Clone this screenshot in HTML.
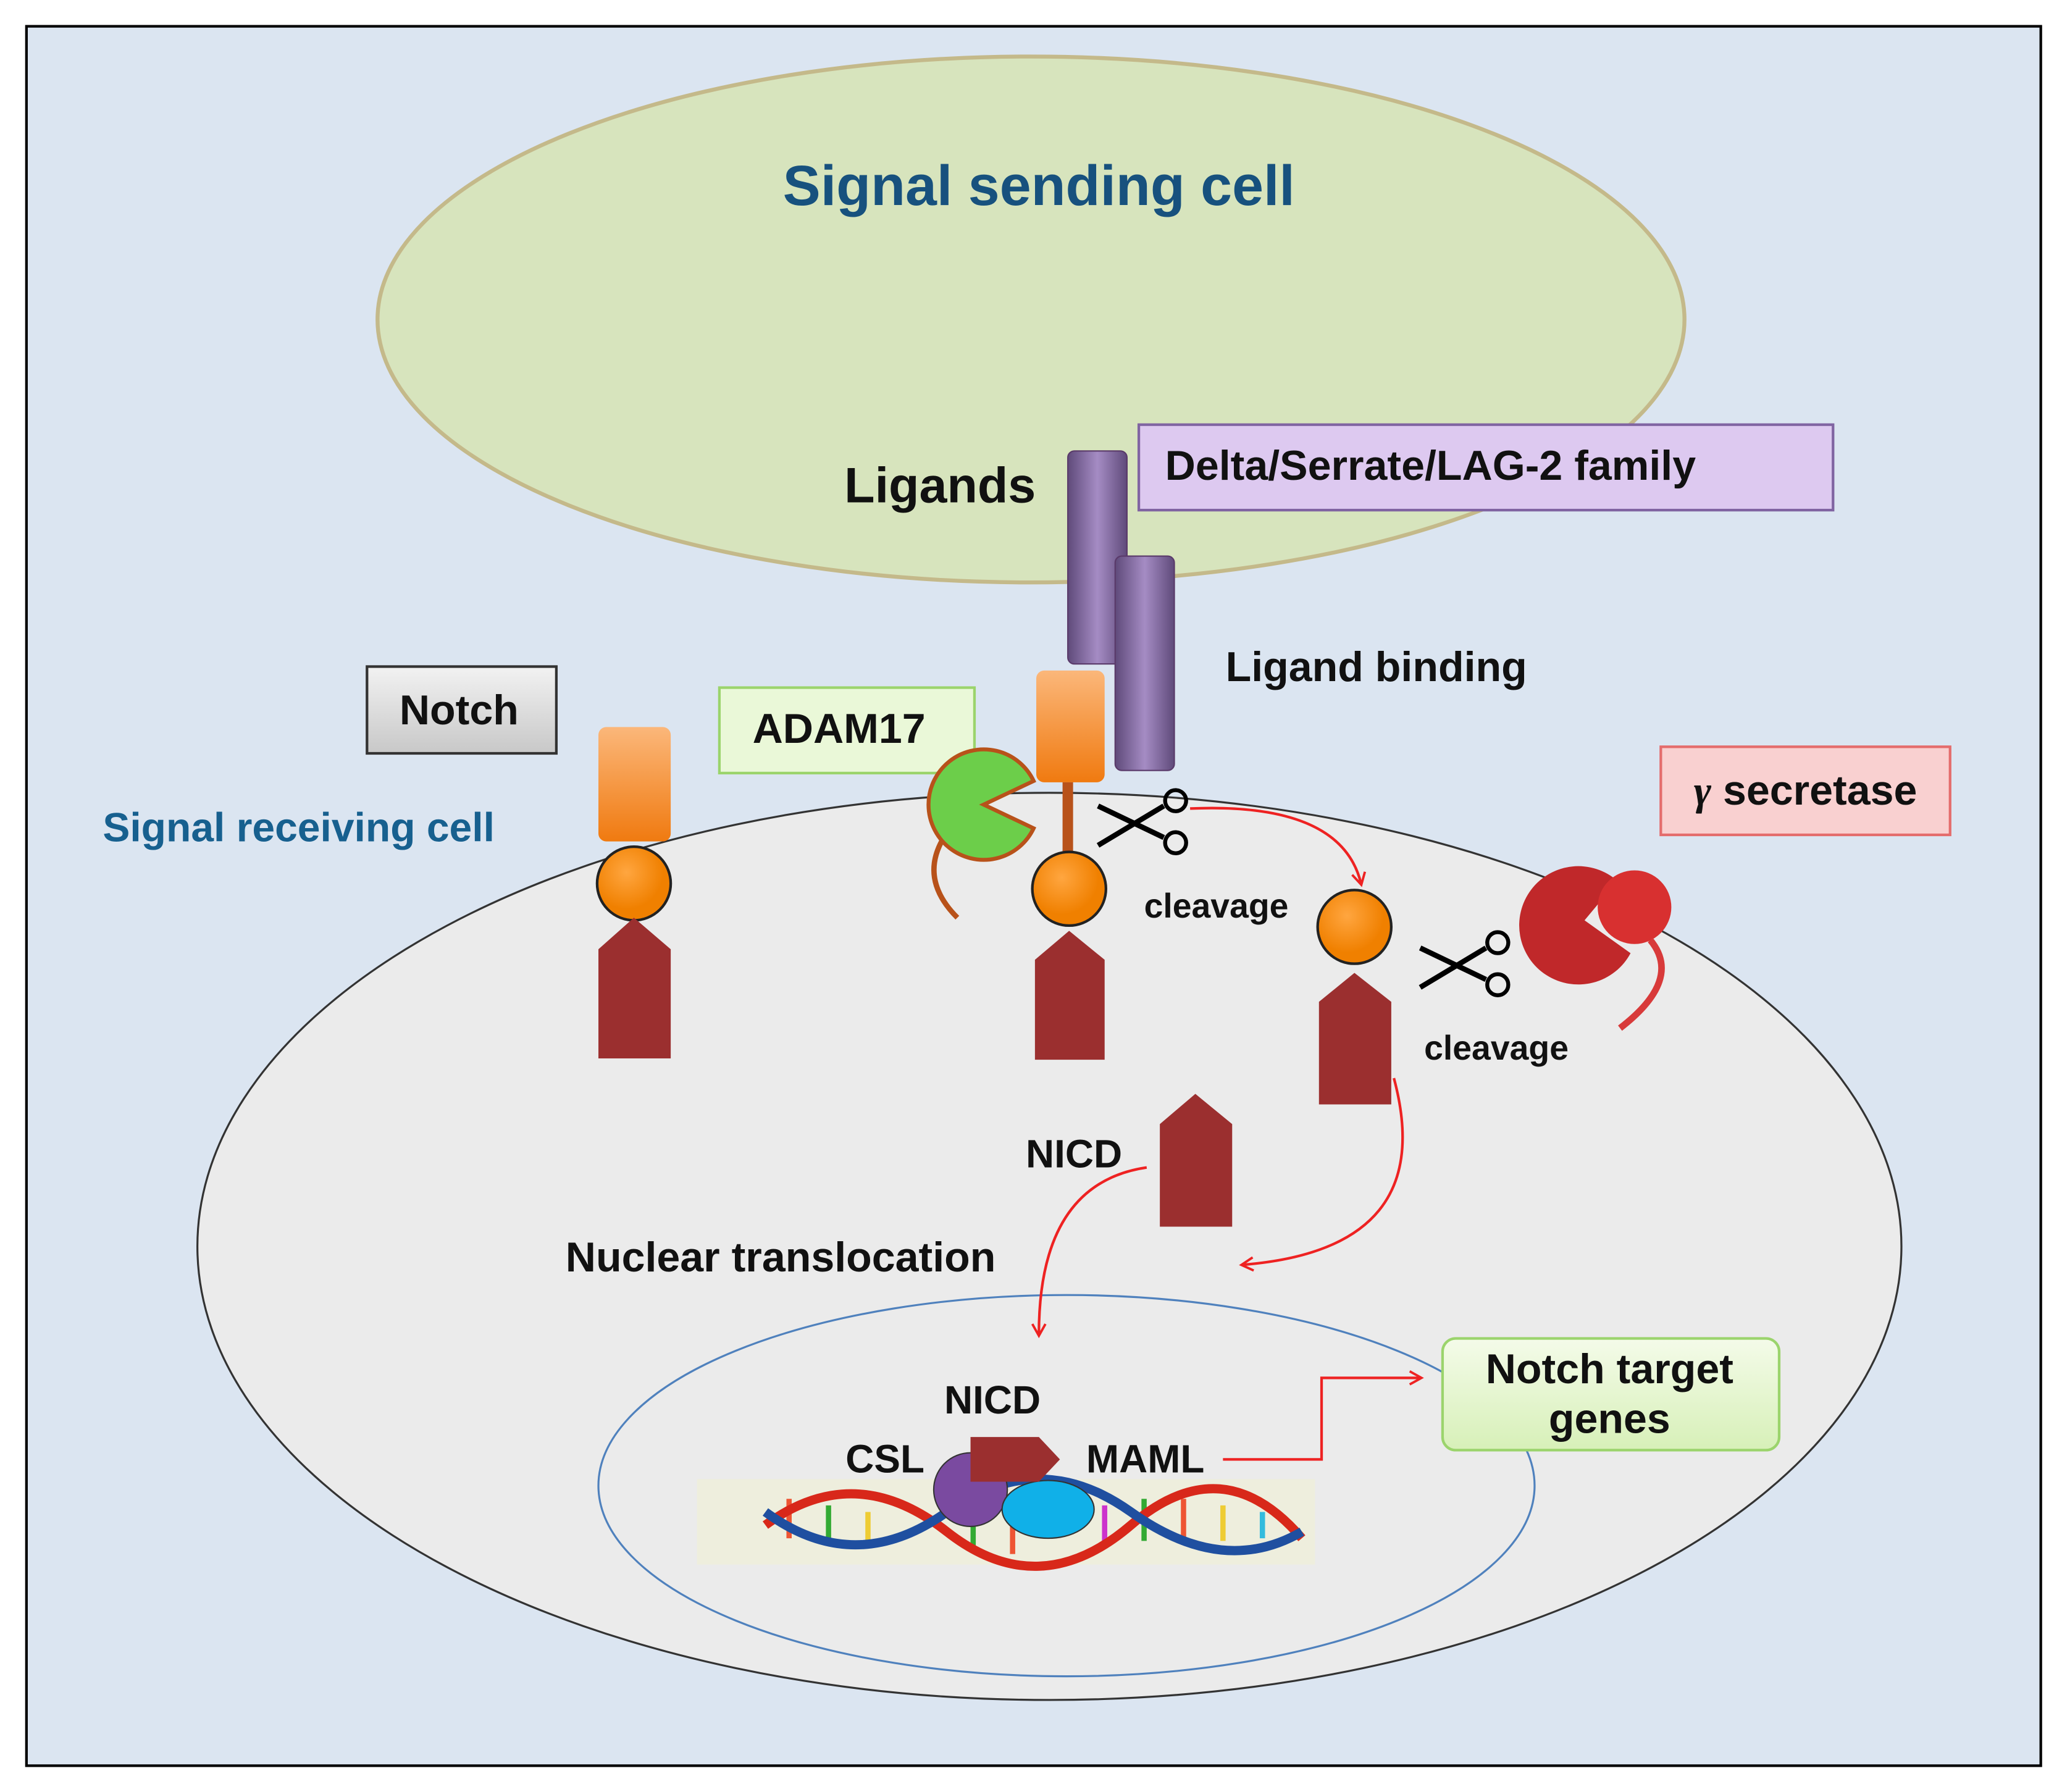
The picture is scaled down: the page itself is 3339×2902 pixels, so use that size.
<!DOCTYPE html>
<html><head><meta charset="utf-8">
<style>
html,body{margin:0;padding:0;background:#fff;}
svg{display:block;}
text{font-family:"Liberation Sans","DejaVu Sans",sans-serif;}
</style></head>
<body>
<svg width="3339" height="2902" viewBox="0 0 1568 1363" xmlns="http://www.w3.org/2000/svg">
<defs>
<linearGradient id="pur" x1="0" x2="1"><stop offset="0" stop-color="#5f4a7a"/><stop offset="0.5" stop-color="#a58cc4"/><stop offset="1" stop-color="#5f4a7a"/></linearGradient>
<linearGradient id="org" x1="0" y1="0" x2="0" y2="1"><stop offset="0" stop-color="#fbb77a"/><stop offset="1" stop-color="#f07a10"/></linearGradient>
<radialGradient id="orc" cx="0.4" cy="0.35"><stop offset="0" stop-color="#ffa640"/><stop offset="1" stop-color="#f08000"/></radialGradient>
<linearGradient id="gray" x1="0" y1="0" x2="0" y2="1"><stop offset="0" stop-color="#f2f2f2"/><stop offset="1" stop-color="#c8c8c8"/></linearGradient>
<linearGradient id="grn" x1="0" y1="0" x2="0" y2="1"><stop offset="0" stop-color="#f4fbe9"/><stop offset="1" stop-color="#d7f0b8"/></linearGradient>
<marker id="ar" markerWidth="12" markerHeight="12" refX="9" refY="6" orient="auto" markerUnits="userSpaceOnUse"><path d="M1,1 L10,6 L1,11" fill="none" stroke="#ee2222" stroke-width="1.8"/></marker>
</defs>
<rect x="20" y="20" width="1532" height="1323" fill="#dbe5f1" stroke="#000" stroke-width="2"/>
<ellipse cx="784" cy="243" rx="497" ry="200" fill="#d7e4bd" stroke="#c4b98a" stroke-width="3"/>
<text x="790" y="156" text-anchor="middle" font-size="43" font-weight="bold" fill="#17517e">Signal sending cell</text>
<ellipse cx="798" cy="948" rx="648" ry="345" fill="#ebebeb" stroke="#333" stroke-width="1.5"/>
<ellipse cx="811" cy="1130" rx="356" ry="145" fill="none" stroke="#4f81bd" stroke-width="1.5"/>

<rect x="866" y="323" width="528" height="65" fill="#ddc9f0" stroke="#8064a2" stroke-width="2"/>
<text x="886" y="365" font-size="32" font-weight="bold" fill="#111">Delta/Serrate/LAG-2 family</text>
<text x="642" y="382" font-size="38" font-weight="bold" fill="#111">Ligands</text>
<rect x="812" y="343" width="45" height="162" rx="5" fill="url(#pur)" stroke="#5a3a6a"/>
<rect x="848" y="423" width="45" height="163" rx="5" fill="url(#pur)" stroke="#5a3a6a"/>
<text x="932" y="518" font-size="32" font-weight="bold" fill="#111">Ligand binding</text>

<rect x="279" y="507" width="144" height="66" fill="url(#gray)" stroke="#333" stroke-width="2"/>
<text x="349" y="551" text-anchor="middle" font-size="32" font-weight="bold" fill="#111">Notch</text>
<rect x="547" y="523" width="194" height="65" fill="#eaf8d8" stroke="#9bd46c" stroke-width="2"/>
<text x="638" y="565" text-anchor="middle" font-size="32" font-weight="bold" fill="#111">ADAM17</text>
<text x="78" y="640" font-size="31" font-weight="bold" fill="#17608f">Signal receiving cell</text>

<rect x="455" y="553" width="55" height="87" rx="6" fill="url(#org)"/>
<circle cx="482" cy="672" r="28" fill="url(#orc)" stroke="#222" stroke-width="2"/>
<path d="M455,722 L482,698 L510,722 L510,805 L455,805 Z" fill="#9b2f2f"/>
<rect x="788" y="510" width="52" height="85" rx="6" fill="url(#org)"/>
<rect x="808" y="595" width="8" height="55" fill="#b8521a"/>
<circle cx="813" cy="676" r="28" fill="url(#orc)" stroke="#222" stroke-width="2"/>
<path d="M787,730 L813,708 L840,730 L840,806 L787,806 Z" fill="#9b2f2f"/>
<path d="M748,612 L786,594 A42,42 0 1 0 786,630 Z" fill="#6cce4a" stroke="#b8521a" stroke-width="3"/>
<path d="M716,640 Q700,670 728,698" fill="none" stroke="#b8521a" stroke-width="4"/>
<g transform="translate(870,625)" stroke="#000" fill="none" stroke-width="4">
<line x1="-35" y1="18" x2="15" y2="-12"/><line x1="-35" y1="-12" x2="15" y2="12"/>
<circle cx="24" cy="-16" r="8" stroke-width="3"/><circle cx="24" cy="16" r="8" stroke-width="3"/>
</g>
<text x="870" y="698" font-size="26" font-weight="bold" fill="#111">cleavage</text>
<path d="M905,615 Q1020,610 1035,672" fill="none" stroke="#ee2222" stroke-width="2" marker-end="url(#ar)"/>
<circle cx="1030" cy="705" r="28" fill="url(#orc)" stroke="#222" stroke-width="2"/>
<path d="M1003,762 L1030,740 L1058,762 L1058,840 L1003,840 Z" fill="#9b2f2f"/>
<g transform="translate(1115,733)" stroke="#000" fill="none" stroke-width="4">
<line x1="-35" y1="18" x2="15" y2="-12"/><line x1="-35" y1="-12" x2="15" y2="12"/>
<circle cx="24" cy="-16" r="8" stroke-width="3"/><circle cx="24" cy="16" r="8" stroke-width="3"/>
</g>
<text x="1083" y="806" font-size="26" font-weight="bold" fill="#111">cleavage</text>
<rect x="1263" y="568" width="220" height="67" fill="#f9d0d0" stroke="#e46c6c" stroke-width="2"/>
<text x="1373" y="612" text-anchor="middle" font-size="32" font-weight="bold" fill="#111"><tspan font-style="italic" font-family="Liberation Serif,serif">γ</tspan> secretase</text>
<path d="M1205,700 L1230,670 A45,45 0 1 0 1240,725 Z" fill="#c0282a"/>
<circle cx="1243" cy="690" r="28" fill="#d83030"/>
<path d="M1255,715 Q1280,745 1232,782" fill="none" stroke="#d83a3a" stroke-width="5"/>
<path d="M1060,820 Q1095,950 945,962" fill="none" stroke="#ee2222" stroke-width="2" marker-end="url(#ar)"/>
<path d="M882,855 L909,832 L937,855 L937,933 L882,933 Z" fill="#9b2f2f"/>
<text x="780" y="888" font-size="30" font-weight="bold" fill="#111">NICD</text>
<path d="M872,888 Q790,900 790,1015" fill="none" stroke="#ee2222" stroke-width="2" marker-end="url(#ar)"/>
<text x="430" y="967" font-size="32" font-weight="bold" fill="#111">Nuclear translocation</text>
<rect x="530" y="1125" width="470" height="65" fill="#eeeedd"/>
<g stroke-width="4">
<line x1="600" y1="1140" x2="600" y2="1170" stroke="#e53"/><line x1="630" y1="1145" x2="630" y2="1175" stroke="#3a3"/>
<line x1="660" y1="1150" x2="660" y2="1172" stroke="#ec3"/><line x1="840" y1="1145" x2="840" y2="1175" stroke="#c3c"/>
<line x1="870" y1="1140" x2="870" y2="1172" stroke="#3a3"/><line x1="900" y1="1140" x2="900" y2="1175" stroke="#e53"/>
<line x1="930" y1="1145" x2="930" y2="1172" stroke="#ec3"/><line x1="960" y1="1150" x2="960" y2="1170" stroke="#3bd"/>
<line x1="740" y1="1160" x2="740" y2="1180" stroke="#3a3"/><line x1="770" y1="1160" x2="770" y2="1182" stroke="#e53"/>
</g>
<path d="M582,1160 Q650,1110 720,1165 T860,1160 T990,1170" fill="none" stroke="#d8281a" stroke-width="7"/>
<path d="M582,1150 Q650,1200 720,1150 T860,1150 T990,1165" fill="none" stroke="#1f4fa0" stroke-width="7"/>
<circle cx="738" cy="1133" r="28" fill="#7a4aa0" stroke="#333"/>
<ellipse cx="797" cy="1148" rx="35" ry="22" fill="#10b0e8" stroke="#333"/>
<path d="M738,1093 L790,1093 L806,1110 L790,1127 L738,1127 Z" fill="#9b2f2f"/>
<text x="718" y="1075" font-size="30" font-weight="bold" fill="#111">NICD</text>
<text x="643" y="1120" font-size="30" font-weight="bold" fill="#111">CSL</text>
<text x="826" y="1120" font-size="30" font-weight="bold" fill="#111">MAML</text>
<path d="M930,1110 L1005,1110 L1005,1048 L1080,1048" fill="none" stroke="#ee2222" stroke-width="2" marker-end="url(#ar)"/>
<rect x="1097" y="1018" width="256" height="85" rx="10" fill="url(#grn)" stroke="#9bd46c" stroke-width="2"/>
<text x="1224" y="1052" text-anchor="middle" font-size="32" font-weight="bold" fill="#111">Notch target</text>
<text x="1224" y="1090" text-anchor="middle" font-size="32" font-weight="bold" fill="#111">genes</text>
</svg>
</body></html>
